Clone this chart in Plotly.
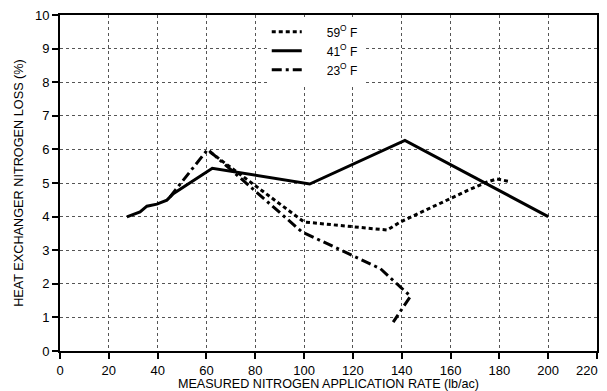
import plotly.graph_objects as go

# Data
x59 = [61.5, 100, 134, 139.5, 167, 175, 179, 184.5]
y59 = [5.92, 3.84, 3.6, 3.84, 4.78, 5.03, 5.12, 5.04]

x41 = [27.4, 32.8, 35.6, 39.7, 43.8, 46.4, 62.4, 102.3, 141.3, 200]
y41 = [3.99, 4.14, 4.31, 4.37, 4.49, 4.68, 5.44, 4.97, 6.27, 4.0]

x23 = [45, 60.5, 99, 119.7, 131.3, 139.5, 143.6, 136.5]
y23 = [4.58, 6.0, 3.55, 2.85, 2.45, 1.9, 1.63, 0.86]

series_names = ["59<sup>O</sup> F", "41<sup>O</sup> F", "23<sup>O</sup> F"]
x_ticks = [0, 20, 40, 60, 80, 100, 120, 140, 160, 180, 200, 220]
x_tick_labels = ["0", "20", "40", "60", "80", "100", "120", "140", "160", "180", "200", "220"]
y_ticks = [0, 1, 2, 3, 4, 5, 6, 7, 8, 9, 10]

pad = "\u00a0" * 6
names = [pad + n for n in series_names]
# last label is drawn as an annotation nudged left so it stays on the page
x_text = x_tick_labels[:-1] + [""]

fig = go.Figure()
fig.add_trace(go.Scatter(x=x59, y=y59, mode="lines", name=names[0],
                         line=dict(color="black", width=3, dash="4px,3px")))
fig.add_trace(go.Scatter(x=x41, y=y41, mode="lines", name=names[1],
                         line=dict(color="black", width=3)))
fig.add_trace(go.Scatter(x=x23, y=y23, mode="lines", name=names[2],
                         line=dict(color="black", width=3, dash="10px,4px,3px,4px")))

fig.add_annotation(x=x_ticks[-1], y=0, xref="x", yref="paper",
                   text=x_tick_labels[-1], showarrow=False,
                   xanchor="center", yanchor="middle", xshift=-10, yshift=-19,
                   font=dict(size=13, color="black"))

font = "Liberation Sans, Arial, sans-serif"
fig.update_layout(
    width=607, height=391,
    margin=dict(l=60, r=10, t=15, b=40),
    paper_bgcolor="white", plot_bgcolor="white",
    font=dict(family=font, color="black", size=13),
    showlegend=True,
    legend=dict(x=0.385, y=0.993, xanchor="left", yanchor="top",
                bgcolor="white", borderwidth=0, font=dict(size=12, color="black"),
                tracegroupgap=0),
    xaxis=dict(range=[0, 220], tickvals=x_ticks, ticktext=x_text,
               ticks="outside", ticklen=6,
               tickwidth=2, tickcolor="black", automargin=False,
               showline=True, linecolor="black", linewidth=2, mirror=True,
               showgrid=True, gridcolor="#555", griddash="dot", gridwidth=1,
               zeroline=False, tickfont=dict(size=13, color="black"),
               title=dict(text="MEASURED NITROGEN APPLICATION RATE (lb/ac)",
                          font=dict(size=12.6, color="black"), standoff=0)),
    yaxis=dict(range=[0, 10], tickvals=y_ticks, ticks="outside", ticklen=6,
               tickwidth=2, tickcolor="black", automargin=False,
               showline=True, linecolor="black", linewidth=2, mirror=True,
               showgrid=True, gridcolor="#555", griddash="dot", gridwidth=1,
               zeroline=False, tickfont=dict(size=13, color="black"),
               title=dict(text="HEAT EXCHANGER NITROGEN LOSS (%)",
                          font=dict(size=12.7, color="black"), standoff=8)),
)

fig.write_html("out.html")
